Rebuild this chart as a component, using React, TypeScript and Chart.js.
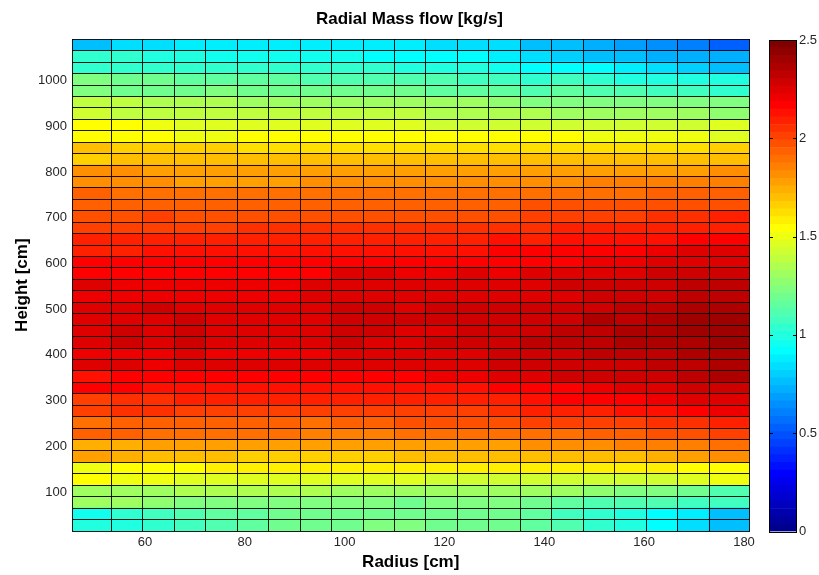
import React, { useEffect, useRef } from 'react';
import { Chart, registerables } from 'chart.js';

Chart.register(...registerables);

// ---- data ----
const RADIUS_EDGES = [45.4, 53.3, 59.6, 65.9, 72.2, 78.5, 84.8, 91.1, 97.4, 103.7, 110.0, 116.3, 122.6, 128.9, 135.2, 141.5, 147.8, 154.1, 160.4, 166.7, 173.0, 181.1];
const HEIGHT_EDGES = [15, 40, 65, 90, 115, 140, 165, 190, 215, 240, 265, 290, 315, 340, 365, 390, 415, 440, 465, 490, 515, 540, 565, 590, 615, 640, 665, 690, 715, 740, 765, 790, 815, 840, 865, 890, 915, 940, 965, 990, 1015, 1040, 1065, 1090];
const RADIUS_TICKS = [60, 80, 100, 120, 140, 160, 180];
const HEIGHT_TICKS = [100, 200, 300, 400, 500, 600, 700, 800, 900, 1000];
const COLORBAR_TICKS = [0, 0.5, 1, 1.5, 2, 2.5];
const C_MIN = 0;
const C_MAX = 2.5;

// rows listed from top (1065-1090 cm) to bottom (15-40 cm), columns from small to large radius
const MASS_FLOW = [
  [0.80, 0.85, 0.85, 0.90, 0.91, 0.91, 0.89, 0.88, 0.88, 0.88, 0.88, 0.86, 0.86, 0.85, 0.80, 0.77, 0.76, 0.72, 0.66, 0.64, 0.56],
  [1.06, 1.04, 1.03, 1.00, 0.98, 0.98, 0.99, 0.98, 0.96, 0.95, 0.94, 0.94, 0.92, 0.90, 0.85, 0.83, 0.80, 0.79, 0.75, 0.74, 0.73],
  [1.06, 1.06, 1.06, 1.07, 1.06, 1.05, 1.04, 1.04, 1.04, 1.04, 1.03, 1.03, 1.01, 0.99, 0.93, 0.94, 0.94, 0.88, 0.85, 0.83, 0.79],
  [1.25, 1.22, 1.22, 1.18, 1.18, 1.18, 1.17, 1.12, 1.14, 1.14, 1.12, 1.12, 1.11, 1.10, 1.05, 1.08, 1.04, 1.02, 1.02, 1.02, 1.02],
  [1.25, 1.23, 1.23, 1.23, 1.24, 1.23, 1.22, 1.20, 1.21, 1.21, 1.20, 1.19, 1.18, 1.18, 1.15, 1.17, 1.15, 1.12, 1.11, 1.08, 1.05],
  [1.40, 1.39, 1.37, 1.36, 1.36, 1.33, 1.32, 1.31, 1.31, 1.31, 1.31, 1.31, 1.31, 1.28, 1.26, 1.26, 1.26, 1.26, 1.26, 1.26, 1.26],
  [1.43, 1.42, 1.42, 1.40, 1.40, 1.40, 1.41, 1.39, 1.39, 1.39, 1.39, 1.38, 1.38, 1.37, 1.37, 1.33, 1.34, 1.34, 1.34, 1.31, 1.28],
  [1.56, 1.56, 1.51, 1.50, 1.50, 1.49, 1.47, 1.48, 1.48, 1.48, 1.48, 1.46, 1.45, 1.45, 1.45, 1.44, 1.44, 1.44, 1.45, 1.45, 1.49],
  [1.56, 1.56, 1.56, 1.54, 1.54, 1.56, 1.56, 1.56, 1.56, 1.56, 1.56, 1.56, 1.56, 1.56, 1.55, 1.56, 1.51, 1.53, 1.53, 1.51, 1.49],
  [1.72, 1.69, 1.69, 1.67, 1.67, 1.66, 1.65, 1.66, 1.66, 1.66, 1.66, 1.66, 1.66, 1.66, 1.66, 1.66, 1.66, 1.66, 1.66, 1.66, 1.67],
  [1.69, 1.72, 1.72, 1.72, 1.72, 1.72, 1.71, 1.72, 1.72, 1.72, 1.73, 1.72, 1.72, 1.72, 1.72, 1.72, 1.72, 1.72, 1.72, 1.70, 1.70],
  [1.82, 1.82, 1.80, 1.78, 1.78, 1.78, 1.78, 1.78, 1.78, 1.78, 1.78, 1.78, 1.78, 1.78, 1.80, 1.80, 1.78, 1.80, 1.80, 1.80, 1.84],
  [1.83, 1.82, 1.82, 1.81, 1.81, 1.81, 1.81, 1.82, 1.82, 1.82, 1.82, 1.82, 1.82, 1.82, 1.84, 1.84, 1.86, 1.86, 1.86, 1.87, 1.86],
  [1.94, 1.92, 1.91, 1.91, 1.91, 1.91, 1.91, 1.91, 1.91, 1.92, 1.92, 1.92, 1.92, 1.92, 1.91, 1.92, 1.92, 1.93, 1.95, 1.94, 1.94],
  [1.95, 1.94, 1.95, 1.94, 1.94, 1.95, 1.95, 1.94, 1.95, 1.94, 1.94, 1.94, 1.94, 1.94, 1.99, 1.98, 1.98, 1.99, 1.99, 1.99, 1.99],
  [2.01, 2.01, 2.03, 2.01, 2.00, 2.00, 2.00, 1.99, 2.00, 2.00, 2.00, 2.01, 2.00, 2.00, 2.04, 2.03, 2.04, 2.05, 2.08, 2.08, 2.11],
  [2.03, 2.04, 2.04, 2.05, 2.05, 2.08, 2.08, 2.08, 2.07, 2.08, 2.08, 2.08, 2.08, 2.08, 2.08, 2.09, 2.10, 2.10, 2.10, 2.11, 2.12],
  [2.09, 2.09, 2.10, 2.10, 2.10, 2.10, 2.10, 2.11, 2.11, 2.11, 2.11, 2.12, 2.11, 2.14, 2.12, 2.14, 2.14, 2.14, 2.16, 2.19, 2.19],
  [2.10, 2.11, 2.14, 2.15, 2.15, 2.15, 2.15, 2.16, 2.16, 2.16, 2.16, 2.16, 2.16, 2.18, 2.19, 2.19, 2.19, 2.20, 2.24, 2.25, 2.25],
  [2.19, 2.18, 2.18, 2.18, 2.18, 2.18, 2.18, 2.19, 2.19, 2.19, 2.19, 2.19, 2.19, 2.19, 2.19, 2.20, 2.21, 2.22, 2.25, 2.27, 2.28],
  [2.20, 2.20, 2.20, 2.20, 2.20, 2.20, 2.20, 2.20, 2.25, 2.25, 2.24, 2.24, 2.25, 2.24, 2.25, 2.26, 2.27, 2.28, 2.29, 2.31, 2.32],
  [2.25, 2.24, 2.24, 2.24, 2.24, 2.24, 2.24, 2.25, 2.25, 2.25, 2.25, 2.25, 2.27, 2.26, 2.28, 2.29, 2.29, 2.32, 2.32, 2.33, 2.34],
  [2.24, 2.24, 2.24, 2.24, 2.24, 2.24, 2.24, 2.25, 2.26, 2.27, 2.26, 2.26, 2.26, 2.27, 2.27, 2.27, 2.29, 2.31, 2.32, 2.34, 2.36],
  [2.28, 2.28, 2.29, 2.28, 2.28, 2.28, 2.28, 2.28, 2.29, 2.29, 2.28, 2.29, 2.31, 2.31, 2.31, 2.31, 2.32, 2.33, 2.36, 2.37, 2.38],
  [2.28, 2.28, 2.28, 2.29, 2.28, 2.28, 2.28, 2.28, 2.29, 2.29, 2.29, 2.31, 2.32, 2.32, 2.32, 2.32, 2.37, 2.36, 2.38, 2.41, 2.42],
  [2.28, 2.29, 2.28, 2.29, 2.28, 2.28, 2.28, 2.28, 2.29, 2.29, 2.28, 2.28, 2.31, 2.32, 2.32, 2.34, 2.36, 2.37, 2.40, 2.42, 2.43],
  [2.28, 2.31, 2.28, 2.29, 2.28, 2.28, 2.28, 2.28, 2.29, 2.28, 2.28, 2.29, 2.29, 2.32, 2.33, 2.34, 2.36, 2.37, 2.38, 2.40, 2.41],
  [2.24, 2.24, 2.24, 2.26, 2.24, 2.24, 2.24, 2.24, 2.25, 2.28, 2.27, 2.26, 2.27, 2.29, 2.32, 2.32, 2.33, 2.33, 2.36, 2.38, 2.40],
  [2.25, 2.25, 2.24, 2.25, 2.25, 2.25, 2.25, 2.25, 2.26, 2.26, 2.25, 2.26, 2.27, 2.29, 2.31, 2.31, 2.32, 2.32, 2.34, 2.36, 2.38],
  [2.16, 2.20, 2.19, 2.20, 2.20, 2.20, 2.20, 2.20, 2.19, 2.20, 2.20, 2.22, 2.24, 2.25, 2.28, 2.29, 2.29, 2.31, 2.32, 2.34, 2.37],
  [2.18, 2.19, 2.15, 2.15, 2.14, 2.15, 2.14, 2.14, 2.14, 2.14, 2.14, 2.15, 2.15, 2.19, 2.19, 2.19, 2.24, 2.25, 2.27, 2.31, 2.32],
  [2.05, 2.07, 2.08, 2.09, 2.09, 2.09, 2.10, 2.10, 2.10, 2.09, 2.10, 2.10, 2.11, 2.12, 2.16, 2.18, 2.19, 2.19, 2.22, 2.25, 2.27],
  [2.05, 2.07, 2.07, 2.05, 2.04, 2.04, 2.03, 2.03, 2.03, 2.03, 2.04, 2.04, 2.05, 2.07, 2.11, 2.11, 2.12, 2.14, 2.15, 2.19, 2.24],
  [1.92, 1.94, 1.95, 1.95, 1.95, 1.95, 1.95, 1.93, 1.94, 1.95, 1.98, 1.98, 1.98, 1.99, 2.03, 2.03, 2.04, 2.05, 2.07, 2.08, 2.10],
  [1.94, 1.95, 1.93, 1.92, 1.90, 1.90, 1.90, 1.88, 1.88, 1.88, 1.90, 1.90, 1.91, 1.92, 1.92, 1.93, 1.94, 1.95, 1.98, 2.01, 2.05],
  [1.76, 1.77, 1.80, 1.80, 1.80, 1.80, 1.80, 1.78, 1.78, 1.80, 1.80, 1.80, 1.80, 1.81, 1.82, 1.83, 1.83, 1.86, 1.87, 1.88, 1.90],
  [1.80, 1.76, 1.73, 1.72, 1.71, 1.69, 1.69, 1.69, 1.69, 1.69, 1.70, 1.70, 1.70, 1.70, 1.71, 1.72, 1.72, 1.73, 1.76, 1.80, 1.83],
  [1.51, 1.56, 1.56, 1.56, 1.62, 1.61, 1.61, 1.60, 1.60, 1.60, 1.60, 1.60, 1.60, 1.60, 1.61, 1.61, 1.61, 1.61, 1.60, 1.56, 1.56],
  [1.56, 1.51, 1.51, 1.49, 1.49, 1.49, 1.49, 1.48, 1.48, 1.48, 1.48, 1.46, 1.46, 1.46, 1.46, 1.46, 1.46, 1.46, 1.46, 1.50, 1.53],
  [1.32, 1.31, 1.33, 1.36, 1.37, 1.37, 1.37, 1.36, 1.34, 1.33, 1.33, 1.33, 1.33, 1.33, 1.33, 1.31, 1.28, 1.26, 1.24, 1.21, 1.13],
  [1.31, 1.31, 1.28, 1.26, 1.26, 1.24, 1.24, 1.26, 1.26, 1.26, 1.23, 1.24, 1.26, 1.26, 1.21, 1.16, 1.15, 1.13, 1.12, 1.09, 1.08],
  [0.98, 1.04, 1.11, 1.13, 1.16, 1.17, 1.20, 1.21, 1.22, 1.23, 1.23, 1.23, 1.22, 1.22, 1.16, 1.11, 1.07, 1.01, 0.95, 0.90, 0.78],
  [1.02, 1.03, 1.06, 1.09, 1.15, 1.17, 1.20, 1.21, 1.23, 1.24, 1.24, 1.21, 1.21, 1.20, 1.17, 1.12, 1.07, 1.01, 0.94, 0.86, 0.78],
];

// ---- jet colormap (64 levels, MATLAB style) ----
const N_LEVELS = 64;
function jetColor(i: number): string {
  const u = (k: number) => (k < 0 || k > 46 ? 0 : k < 16 ? (k + 1) / 16 : k < 31 ? 1 : (47 - k) / 16);
  const r = i >= 25 ? u(i - 25) : 0;
  const g = i >= 9 ? u(i - 9) : 0;
  const b = i <= 39 ? u(i + 7) : 0;
  return `rgb(${Math.round(r * 255)},${Math.round(g * 255)},${Math.round(b * 255)})`;
}
function colorFor(v: number): string {
  const idx = Math.min(N_LEVELS, Math.max(1, Math.round(((v - C_MIN) / (C_MAX - C_MIN)) * N_LEVELS)));
  return jetColor(idx);
}

const FONT = "'Liberation Sans', Arial, Helvetica, sans-serif";
const TICK_COLOR = '#262626';
const LABEL_FONT = { size: 17, weight: 'bold', family: FONT };

const edgeTicks = (vals: number[]) => (s: any) => {
  s.ticks = vals.map((v) => ({ value: v }));
};

const colorbarFrame = {
  id: 'colorbarFrame',
  afterDatasetsDraw(chart: any) {
    const { ctx, chartArea: a, scales } = chart;
    const y = scales.y;
    ctx.save();
    ctx.strokeStyle = '#000';
    ctx.lineWidth = 1;
    ctx.beginPath();
    for (const v of COLORBAR_TICKS) {
      const py = Math.round(y.getPixelForValue(v)) + 0.5;
      ctx.moveTo(a.left, py);
      ctx.lineTo(a.left + 4, py);
      ctx.moveTo(a.right - 4, py);
      ctx.lineTo(a.right, py);
    }
    ctx.stroke();
    ctx.strokeRect(Math.round(a.left) + 0.5, Math.round(a.top) + 0.5, Math.round(a.right - a.left) - 1, Math.round(a.bottom - a.top));
    ctx.restore();
  },
};

export default function App() {
  const mainRef = useRef<HTMLCanvasElement>(null);
  const barRef = useRef<HTMLCanvasElement>(null);

  useEffect(() => {
    Chart.defaults.font.family = FONT;

    const cells: any[] = [];
    const colors: string[] = [];
    const nRows = MASS_FLOW.length;
    MASS_FLOW.forEach((row, r) => {
      const lo = HEIGHT_EDGES[nRows - 1 - r];
      const hi = HEIGHT_EDGES[nRows - r];
      row.forEach((v, c) => {
        cells.push({ y: (lo + hi) / 2, x: [RADIUS_EDGES[c], RADIUS_EDGES[c + 1]] });
        colors.push(colorFor(v));
      });
    });

    const main = new Chart(mainRef.current as HTMLCanvasElement, {
      type: 'bar',
      data: {
        datasets: [
          {
            data: cells,
            backgroundColor: colors,
            borderWidth: 0,
            barPercentage: 1,
            categoryPercentage: 1,
            grouped: false,
          } as any,
        ],
      },
      options: {
        indexAxis: 'y',
        responsive: false,
        animation: false,
        devicePixelRatio: 1,
        layout: { padding: 0 },
        plugins: {
          legend: { display: false },
          tooltip: { enabled: false },
          title: {
            display: true,
            text: 'Radial Mass flow [kg/s]',
            color: '#000',
            font: LABEL_FONT,
            padding: { top: 9, bottom: 9.9 },
          },
        },
        scales: {
          x: {
            type: 'linear',
            position: 'bottom',
            offset: false,
            min: RADIUS_EDGES[0],
            max: RADIUS_EDGES[RADIUS_EDGES.length - 1],
            afterBuildTicks: edgeTicks(RADIUS_TICKS),
            afterFit: (s: any) => {
              s.height = 44;
            },
            grid: { display: false, drawTicks: false },
            border: { display: false },
            ticks: {
              autoSkip: false,
              maxRotation: 0,
              padding: 4,
              color: TICK_COLOR,
              font: { size: 13, family: FONT },
              callback: (v: any) => String(v),
            },
            title: {
              display: true,
              text: 'Radius [cm]',
              color: '#000',
              font: LABEL_FONT,
              padding: { top: 0, bottom: 2 },
            },
          },
          y: {
            type: 'linear',
            position: 'left',
            offset: false,
            min: HEIGHT_EDGES[0],
            max: HEIGHT_EDGES[HEIGHT_EDGES.length - 1],
            afterBuildTicks: edgeTicks(HEIGHT_TICKS),
            afterFit: (s: any) => {
              s.width = 72;
            },
            grid: { display: false, drawTicks: false, offset: false },
            border: { display: false },
            ticks: {
              autoSkip: false,
              padding: 5,
              color: TICK_COLOR,
              font: { size: 13, family: FONT },
              callback: (v: any) => String(v),
            },
            title: {
              display: true,
              text: 'Height [cm]',
              color: '#000',
              font: LABEL_FONT,
              padding: { top: 12, bottom: 0 },
            },
          },
          xe: {
            type: 'linear',
            position: 'top',
            offset: false,
            min: RADIUS_EDGES[0],
            max: RADIUS_EDGES[RADIUS_EDGES.length - 1],
            afterBuildTicks: edgeTicks(RADIUS_EDGES),
            afterFit: (s: any) => {
              s.height = 0;
            },
            ticks: { display: false },
            grid: { color: 'rgba(0,0,0,0.9)', lineWidth: 1, drawTicks: false, z: 1, offset: false },
            border: { display: false },
          },
          ye: {
            type: 'linear',
            position: 'right',
            offset: false,
            min: HEIGHT_EDGES[0],
            max: HEIGHT_EDGES[HEIGHT_EDGES.length - 1],
            afterBuildTicks: edgeTicks(HEIGHT_EDGES),
            afterFit: (s: any) => {
              s.width = 69.5;
            },
            ticks: { display: false },
            grid: { color: 'rgba(0,0,0,0.9)', lineWidth: 1, drawTicks: false, z: 1, offset: false },
            border: { display: false },
          },
        },
      } as any,
    });

    const bands = Array.from({ length: N_LEVELS }, (_, k) => ({
      lo: C_MIN + ((C_MAX - C_MIN) * k) / N_LEVELS,
      hi: C_MIN + ((C_MAX - C_MIN) * (k + 1)) / N_LEVELS,
      color: jetColor(k + 1),
    }));

    const bar = new Chart(barRef.current as HTMLCanvasElement, {
      type: 'bar',
      data: {
        labels: [''],
        datasets: bands.map((b) => ({
          data: [[b.lo, b.hi]],
          backgroundColor: b.color,
          borderWidth: 0,
          barPercentage: 1,
          categoryPercentage: 1,
          grouped: false,
        })) as any,
      },
      options: {
        responsive: false,
        animation: false,
        devicePixelRatio: 1,
        layout: { padding: { left: 9, right: 0, top: 40, bottom: 43.5 } },
        plugins: { legend: { display: false }, tooltip: { enabled: false }, title: { display: false } },
        scales: {
          x: { display: false },
          y: {
            position: 'right',
            min: C_MIN,
            max: C_MAX,
            afterBuildTicks: edgeTicks(COLORBAR_TICKS),
            afterFit: (s: any) => {
              s.width = 22;
            },
            grid: { display: false, drawTicks: false },
            border: { display: false },
            ticks: {
              autoSkip: false,
              padding: 2,
              color: TICK_COLOR,
              font: { size: 13, family: FONT },
              callback: (v: any) => String(v),
            },
          },
        },
      } as any,
      plugins: [colorbarFrame],
    });

    return () => {
      main.destroy();
      bar.destroy();
    };
  }, []);

  return (
    <div style={{ position: 'absolute', left: 0, top: 0, width: 819, height: 575, background: '#fff' }}>
      <canvas ref={mainRef} width={819} height={575} style={{ position: 'absolute', left: 0, top: 0 }} />
      <canvas ref={barRef} width={59} height={575} style={{ position: 'absolute', left: 760, top: 0 }} />
    </div>
  );
}
